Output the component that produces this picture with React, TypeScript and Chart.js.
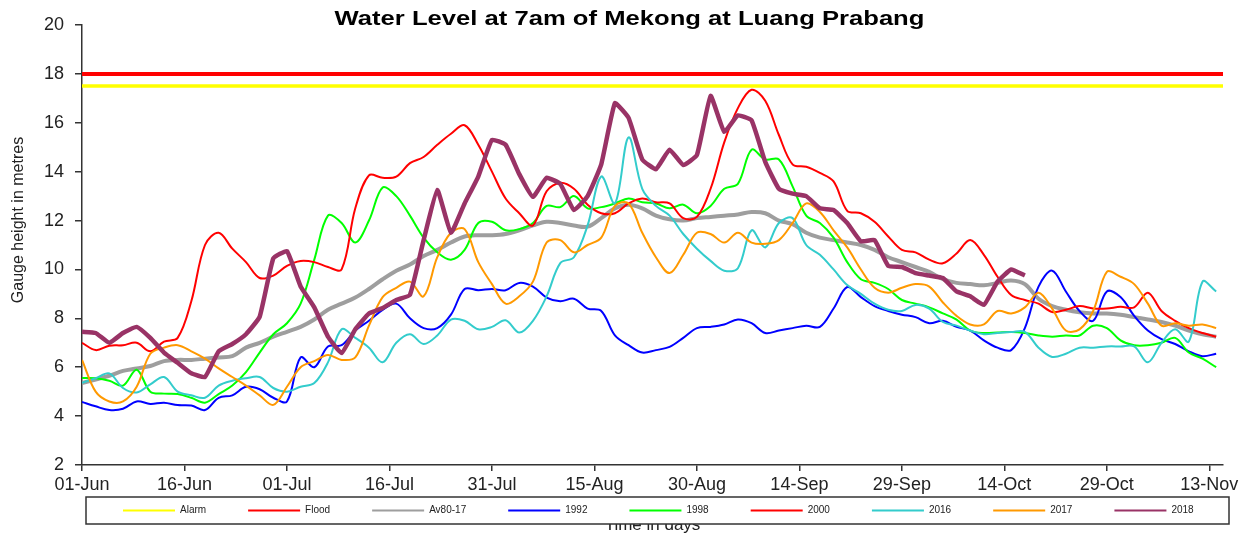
import React, { useEffect, useRef } from "react";
import { Chart, registerables } from "chart.js";

Chart.register(...registerables);

const chartTitle = "Water Level at 7am of Mekong at Luang Prabang";
const yAxisTitle = "Gauge height in metres";
const xAxisTitle = "Time in days";

const tickLabels = ["01-Jun", "16-Jun", "01-Jul", "16-Jul", "31-Jul", "15-Aug", "30-Aug", "14-Sep", "29-Sep", "14-Oct", "29-Oct", "13-Nov"];

// day index counted from 01-Jun
const days = [
  0, 2, 4, 6, 8, 10, 12, 14, 16, 18,
  20, 22, 24, 26, 28, 30, 32, 34, 36, 38,
  40, 42, 44, 46, 48, 50, 52, 54, 56, 58,
  60, 62, 64, 66, 68, 70, 72, 74, 76, 78,
  80, 82, 84, 86, 88, 90, 92, 94, 96, 98,
  100, 102, 104, 106, 108, 110, 112, 114, 116, 118,
  120, 122, 124, 126, 128, 130, 132, 134, 136, 138,
  140, 142, 144, 146, 148, 150, 152, 154, 156, 158,
  160, 162, 164, 166,
];
const firstDay = 0;
const lastDay = 167;

const alarmLevel = 17.5;
const floodLevel = 18;

const av80_17 = [
  5.35, 5.5, 5.65, 5.85, 5.95, 6.05, 6.25, 6.3, 6.3, 6.35,
  6.4, 6.45, 6.8, 7.0, 7.25, 7.45, 7.65, 7.95, 8.35, 8.6,
  8.85, 9.2, 9.6, 9.95, 10.2, 10.55, 10.8, 11.1, 11.35, 11.4,
  11.4, 11.45, 11.6, 11.8, 11.95, 11.9, 11.8, 11.75, 12.1, 12.5,
  12.65, 12.5, 12.2, 12.05, 12.0, 12.1, 12.15, 12.2, 12.25, 12.35,
  12.3, 12.0, 11.85, 11.5, 11.3, 11.2, 11.1, 11.0, 10.8, 10.5,
  10.3, 10.1, 9.9, 9.6, 9.45, 9.4, 9.35, 9.45, 9.55, 9.4,
  8.8, 8.5, 8.35, 8.25, 8.2, 8.2, 8.15, 8.05, 7.95, 7.85,
  7.7, 7.5, 7.35, 7.25,
];

const y1992 = [
  4.58, 4.4, 4.25, 4.3, 4.6, 4.5, 4.55, 4.45, 4.43, 4.25,
  4.75, 4.85, 5.2, 5.1, 4.75, 4.6, 6.4, 6.0, 6.85, 6.9,
  7.5, 7.9, 8.35, 8.6, 8.0, 7.6, 7.6, 8.15, 9.2, 9.15,
  9.2, 9.15, 9.45, 9.3, 8.85, 8.7, 8.8, 8.4, 8.3, 7.3,
  6.9, 6.6, 6.7, 6.83, 7.2, 7.6, 7.65, 7.75, 7.95, 7.8,
  7.4, 7.5, 7.6, 7.7, 7.65, 8.4, 9.28, 8.87, 8.5, 8.3,
  8.15, 8.05, 7.8, 7.9, 7.65, 7.5, 7.1, 6.8, 6.7, 7.6,
  9.3, 9.95, 9.1, 8.3, 7.9, 9.1, 8.87, 8.1, 7.5, 7.15,
  6.95, 6.65, 6.45, 6.55,
];

const y1998 = [
  5.56, 5.55, 5.45, 5.25, 5.9, 5.0, 4.92, 4.9, 4.75, 4.55,
  4.9, 5.25, 5.8, 6.6, 7.35, 7.8, 8.6, 10.4, 12.2, 11.9,
  11.1, 12.0, 13.35, 13.0, 12.2, 11.3, 10.7, 10.4, 10.8, 11.9,
  11.95, 11.6, 11.65, 11.9, 12.6, 12.55, 13.0, 12.5, 12.55, 12.7,
  12.9, 12.75, 12.7, 12.5, 12.65, 12.3, 12.6, 13.3, 13.5, 14.9,
  14.5, 14.5, 13.4, 12.2, 11.9, 11.3, 10.3, 9.6, 9.45, 9.2,
  8.75, 8.6, 8.45, 8.2, 7.95, 7.5, 7.4, 7.42, 7.44, 7.4,
  7.3, 7.25, 7.3, 7.3, 7.7, 7.6, 7.1, 6.9, 6.9, 7.0,
  7.2, 6.6, 6.35, 6.0,
];

const y2000 = [
  7.0, 6.7, 6.88, 6.9, 7.0, 6.65, 7.05, 7.2, 8.7, 11.0,
  11.5, 10.85, 10.3, 9.65, 9.75, 10.15, 10.35, 10.3, 10.1, 10.0,
  12.5, 13.85, 13.75, 13.8, 14.35, 14.6, 15.1, 15.55, 15.9, 15.1,
  14.0, 12.9, 12.3, 11.8, 13.2, 13.54, 13.3, 12.65, 12.3, 12.3,
  12.7, 12.9, 12.75, 12.7, 12.1, 12.15, 13.3, 15.2, 16.6, 17.35,
  16.9, 15.5, 14.3, 14.2, 13.95, 13.6, 12.4, 12.3, 11.95, 11.35,
  10.8, 10.7, 10.4, 10.25, 10.65, 11.2, 10.6, 9.7, 8.95, 8.75,
  8.6, 8.26, 8.35, 8.5, 8.4, 8.4, 8.47, 8.45, 9.05, 8.3,
  7.9, 7.6, 7.4, 7.25,
];

const y2016 = [
  5.36, 5.55, 5.75, 5.15, 4.97, 5.3, 5.6, 5.0, 4.85, 4.75,
  5.25, 5.45, 5.55, 5.6, 5.15, 5.0, 5.2, 5.35, 6.2, 7.55,
  7.2, 6.8, 6.2, 7.0, 7.35, 6.95, 7.3, 7.95, 7.9, 7.55,
  7.65, 7.92, 7.42, 7.9, 8.9, 10.26, 10.5, 11.8, 13.8, 12.7,
  15.4, 13.3, 12.6, 12.2, 11.45, 10.85, 10.35, 9.95, 10.05, 11.6,
  10.9, 11.9, 12.1, 11.0, 10.6, 10.0, 9.36, 9.0, 8.6, 8.35,
  8.3, 8.55, 8.4, 7.85, 7.7, 7.5, 7.35, 7.4, 7.44, 7.45,
  6.8, 6.42, 6.55, 6.8, 6.8, 6.85, 6.85, 6.85, 6.2, 7.0,
  7.55, 7.05, 9.5, 9.1,
];

const y2017 = [
  6.3, 5.0, 4.6, 4.6, 5.2, 6.55, 6.8, 6.9, 6.65, 6.35,
  5.95, 5.6, 5.25, 4.85, 4.46, 5.2, 6.0, 6.25, 6.5, 6.3,
  6.4, 7.7, 8.87, 9.25, 9.5, 8.9, 10.5, 11.5, 11.65, 10.3,
  9.4, 8.6, 8.9, 9.5, 11.1, 11.2, 10.7, 11.0, 11.3, 12.6,
  12.7, 11.5, 10.5, 9.85, 10.6, 11.5, 11.45, 11.1, 11.5, 11.1,
  11.05, 11.2, 11.9, 12.7, 12.35, 11.6, 10.9, 10.0, 9.25, 9.05,
  9.25, 9.4, 9.3, 8.65, 8.1, 7.75, 7.75, 8.3, 8.2, 8.45,
  9.05, 8.4, 7.5, 7.55, 8.3, 9.9, 9.7, 9.4, 8.6, 7.7,
  7.8, 7.7, 7.75, 7.6,
];

const y2018 = [
  7.45, 7.4, 7.0, 7.4, 7.65, 7.2, 6.6, 6.18, 5.75, 5.6,
  6.65, 6.95, 7.35, 8.06, 10.45, 10.75, 9.3, 8.45, 7.25, 6.58,
  7.55, 8.2, 8.42, 8.75, 8.96, 11.2, 13.25, 11.5, 12.7, 13.8,
  15.3, 15.1, 13.9, 12.97, 13.75, 13.5, 12.43, 13.0, 14.3, 16.8,
  16.2, 14.5, 14.1, 14.9, 14.27, 14.68, 17.1, 15.63, 16.3, 16.1,
  14.4, 13.3, 13.1, 13.0, 12.5, 12.43, 11.9, 11.15, 11.2, 10.15,
  10.1, 9.85, 9.75, 9.65, 9.1, 8.9, 8.55, 9.5, 10.0, 9.75,
];

const seriesLabels = ["Alarm", "Flood", "Av80-17", "1992", "1998", "2000", "2016", "2017", "2018"];
const seriesColors = ["#FFFF00", "#FF0000", "#9E9E9E", "#0000FF", "#00FF00", "#FF0000", "#33CCCC", "#FF9900", "#993366"];
const seriesWidths = [3.5, 4, 4, 2, 2, 2, 2, 2, 4.5];

const FONT = '"Liberation Sans", Arial, Helvetica, sans-serif';

function toPoints(values: number[]) {
  return values.map((v, i) => ({ x: days[i], y: v }));
}

const decorPlugin = {
  id: "decor",
  afterDraw(chart: any) {
    const ctx = chart.ctx as CanvasRenderingContext2D;
    const area = chart.chartArea;

    // title (horizontally stretched like the source)
    ctx.save();
    ctx.fillStyle = "#000";
    ctx.font = `bold 21px ${FONT}`;
    ctx.textAlign = "center";
    ctx.textBaseline = "alphabetic";
    ctx.translate(chart.width / 2, 25);
    ctx.scale(1.22, 1);
    ctx.fillText(chartTitle, 0, 0);
    ctx.restore();

    // y axis title
    ctx.save();
    ctx.fillStyle = "#222";
    ctx.font = `16px ${FONT}`;
    ctx.textAlign = "center";
    ctx.textBaseline = "alphabetic";
    ctx.translate(23, 220);
    ctx.rotate(-Math.PI / 2);
    ctx.fillText(yAxisTitle, 0, 0);
    ctx.restore();

    // x axis title (partly hidden under the legend box)
    ctx.save();
    ctx.fillStyle = "#222";
    ctx.font = `17px ${FONT}`;
    ctx.textAlign = "center";
    ctx.textBaseline = "alphabetic";
    ctx.fillText(xAxisTitle, (area.left + area.right) / 2, 530);
    ctx.restore();

    // legend box
    const bx = 86, by = 497, bw = 1229 - 86, bh = 27;
    ctx.save();
    ctx.fillStyle = "#fff";
    ctx.fillRect(bx, by, bw, bh);
    ctx.strokeStyle = "#333";
    ctx.lineWidth = 1.5;
    ctx.strokeRect(bx, by, bw, bh);
    ctx.font = `10px ${FONT}`;
    ctx.textBaseline = "middle";
    ctx.textAlign = "left";
    let x = 123;
    const ly = 510.5;
    seriesLabels.forEach((label, i) => {
      ctx.strokeStyle = seriesColors[i];
      ctx.lineWidth = 2;
      ctx.beginPath();
      ctx.moveTo(x, ly);
      ctx.lineTo(x + 52, ly);
      ctx.stroke();
      ctx.fillStyle = "#222";
      ctx.fillText(label, x + 57, ly);
      x += 57 + ctx.measureText(label).width + 42;
    });
    ctx.restore();
  },
};

export default function App() {
  const ref = useRef<HTMLCanvasElement | null>(null);

  useEffect(() => {
    if (!ref.current) return;
    const seriesData = [
      [{ x: firstDay, y: alarmLevel }, { x: lastDay, y: alarmLevel }],
      [{ x: firstDay, y: floodLevel }, { x: lastDay, y: floodLevel }],
      toPoints(av80_17),
      toPoints(y1992),
      toPoints(y1998),
      toPoints(y2000),
      toPoints(y2016),
      toPoints(y2017),
      toPoints(y2018),
    ];
    const datasets = seriesLabels.map((label, i) => ({
      label,
      data: seriesData[i],
      borderColor: seriesColors[i],
      backgroundColor: seriesColors[i],
      borderWidth: seriesWidths[i],
      pointRadius: 0,
      pointHoverRadius: 0,
      fill: false,
      tension: label === "2018" ? 0.12 : 0.35,
      borderJoinStyle: "round" as const,
      borderCapStyle: "butt" as const,
      order: seriesLabels.length - 1 - i,
    }));

    const chart = new Chart(ref.current, {
      type: "line",
      data: { datasets },
      options: {
        animation: false,
        responsive: true,
        maintainAspectRatio: false,
        layout: { padding: { left: 0, right: 36, top: 25, bottom: 42 } },
        plugins: {
          legend: { display: false },
          title: { display: false },
          tooltip: { enabled: false },
        },
        scales: {
          x: {
            type: "linear",
            min: firstDay,
            max: lastDay,
            grid: { drawOnChartArea: false, drawTicks: true, tickLength: 6, color: "#333", lineWidth: 1.5 },
            border: { display: true, color: "#333", width: 1.5 },
            ticks: {
              stepSize: 15,
              includeBounds: false,
              autoSkip: false,
              maxRotation: 0,
              padding: 3,
              color: "#222",
              font: { family: FONT, size: 18 },
              callback: (value: any) => {
                const idx = Math.round(Number(value) / 15);
                return Number(value) % 15 === 0 ? tickLabels[idx] ?? "" : "";
              },
            },
            afterFit: (scale: any) => {
              scale.height = 30;
            },
          },
          y: {
            type: "linear",
            min: 2,
            max: 20,
            grid: { drawOnChartArea: false, drawTicks: true, tickLength: 7, color: "#333", lineWidth: 1.5 },
            border: { display: true, color: "#333", width: 1.5 },
            ticks: {
              stepSize: 2,
              padding: 11,
              color: "#222",
              font: { family: FONT, size: 18 },
            },
            afterFit: (scale: any) => {
              scale.width = 82;
            },
          },
        },
      },
      plugins: [decorPlugin],
    });
    return () => chart.destroy();
  }, []);

  return (
    <div style={{ position: "fixed", left: 0, top: 0, width: 1259, height: 537, background: "#fff" }}>
      <canvas ref={ref} />
    </div>
  );
}
